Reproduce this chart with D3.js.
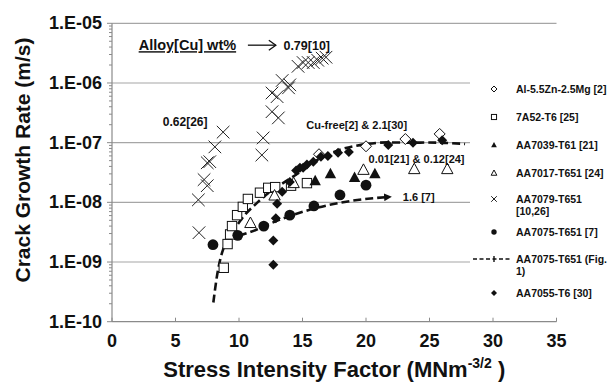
<!DOCTYPE html>
<html><head><meta charset="utf-8">
<script src="https://cdn.jsdelivr.net/npm/d3@7"></script>
<style>body{margin:0;background:#fff}svg{display:block;font-family:"Liberation Sans",Arial,sans-serif}</style>
</head><body><svg id="c" width="609" height="382"></svg>
<script>
// ---- data ----
const xTicks = [0,5,10,15,20,25,30,35];
const yTicks = [1e-10,1e-9,1e-8,1e-7,1e-6,1e-5];
const yTickLabels = ["1.E-10","1.E-09","1.E-08","1.E-07","1.E-06","1.E-05"];

const al55K = [16.3, 20.0, 23.1, 25.8];
const al55V = [6.4e-8, 8.7e-8, 1.15e-7, 1.4e-7];

const a7a52K = [8.8, 9.1, 9.3, 9.45, 9.85, 10.3, 10.7, 11.65, 12.3, 12.85, 14.1, 15.35];
const a7a52V = [8e-10, 2.0e-9, 2.9e-9, 4.0e-9, 6.1e-9, 8.4e-9, 1.14e-8, 1.45e-8, 1.75e-8, 1.8e-8, 1.9e-8, 2.1e-8];

const aa7039K = [16.0, 17.2, 19.1, 20.7];
const aa7039V = [2.3e-8, 3.0e-8, 2.6e-8, 3.0e-8];

const aa7017K = [10.9, 12.8, 14.3, 19.8, 23.8, 26.4];
const aa7017V = [4.5e-9, 1.3e-8, 2.1e-8, 3.5e-8, 3.6e-8, 3.6e-8];

const aa7079K = [6.85, 6.8, 7.25, 7.5, 7.5, 7.7, 8.1, 8.75, 11.8, 11.9, 12.6, 13.1, 12.6, 13.0, 13.4, 14.0, 13.9, 14.65, 15.05, 15.45, 15.85, 16.2, 16.55, 16.85];
const aa7079V = [3.1e-9, 1.1e-8, 2.4e-8, 1.9e-8, 4.6e-8, 4.8e-8, 8.5e-8, 1.5e-7, 6.2e-8, 1.2e-7, 3.3e-7, 2.6e-7, 6.8e-7, 5.9e-7, 1.1e-6, 9.3e-7, 8.3e-7, 1.9e-6, 2.2e-6, 2.2e-6, 2.2e-6, 2.4e-6, 2.6e-6, 2.7e-6];

const aa7075K = [7.95, 9.9, 11.95, 14.0, 15.9, 17.95, 20.0];
const aa7075V = [1.95e-9, 2.8e-9, 4.0e-9, 6.1e-9, 8.7e-9, 1.33e-8, 1.94e-8];

const fig1K = [7.98, 8.35, 8.74, 9.29, 9.69, 10.47, 11.42, 12.44, 13.46, 14.8, 16.14, 17.95, 19.53, 21.1, 23.46, 25.83, 27.8];
const fig1V = [2.1e-10, 7.4e-10, 1.6e-9, 2.9e-9, 3.7e-9, 6.2e-9, 9.8e-9, 1.5e-8, 2.1e-8, 3.2e-8, 5.1e-8, 7.6e-8, 9.1e-8, 1.0e-7, 1.0e-7, 1.0e-7, 9.5e-8];

const aa7055K = [12.7, 12.7, 12.9, 13.0, 13.4, 14.0, 14.5, 14.8, 15.05, 15.35, 15.85, 16.45, 17.0, 17.8, 18.65, 21.75, 23.7, 26.0];
const aa7055V = [9e-10, 2.3e-9, 5.4e-9, 9.5e-9, 1.5e-8, 2.2e-8, 3.4e-8, 3.8e-8, 3.8e-8, 4.3e-8, 4.8e-8, 5.8e-8, 6.0e-8, 6.8e-8, 7.0e-8, 9.1e-8, 1.0e-7, 1.1e-7];

const cu16K = [10.0, 11.4, 12.44, 14.02, 16.14, 18.74, 21.73];
const cu16V = [2.75e-9, 3.5e-9, 4.4e-9, 5.9e-9, 8.1e-9, 1.05e-8, 1.23e-8];

const legendNames = ["Al-5.5Zn-2.5Mg [2]","7A52-T6 [25]","AA7039-T61 [21]","AA7017-T651 [24]","AA7079-T651|[10,26]","AA7075-T651 [7]","AA7075-T651 (Fig.|1)","AA7055-T6 [30]"];
const legendKinds = ["hdiamond","hsquare","ftri","htri","cross","fcircle","dash","fdiamond"];

// ---- chart ----
const svg = d3.select("#c");
const x = d3.scaleLinear().domain([0,35]).range([112,556.5]);
const y = d3.scaleLog().domain([1e-10,1e-5]).range([321.7,23.3]);
const grid = "#a6a6a6", axc = "#8a8a8a";

// gridlines
svg.append("g").selectAll("line").data(yTicks.slice(1)).join("line")
  .attr("x1",x(0)).attr("x2",x(35)).attr("y1",d=>y(d)).attr("y2",d=>y(d))
  .attr("stroke",grid).attr("stroke-width",1.2);

// y axis with minor ticks
const minor = [];
for (let e=-10;e<-5;e++) for (let m=2;m<10;m++) minor.push(m*Math.pow(10,e));
const ax = svg.append("g");
ax.append("line").attr("x1",x(0)).attr("x2",x(0)).attr("y1",y(1e-5)).attr("y2",y(1e-10)).attr("stroke",axc).attr("stroke-width",1.2);
ax.selectAll(".mn").data(minor).join("line").attr("x1",x(0)-3).attr("x2",x(0)).attr("y1",d=>y(d)).attr("y2",d=>y(d)).attr("stroke",axc);
ax.selectAll(".mj").data(yTicks).join("line").attr("x1",x(0)-5).attr("x2",x(0)).attr("y1",d=>y(d)).attr("y2",d=>y(d)).attr("stroke",axc);
ax.selectAll("text").data(yTicks).join("text").attr("x",x(0)-10).attr("y",d=>y(d)+6)
  .attr("text-anchor","end").attr("font-size",18).attr("font-weight","bold").attr("fill","#111")
  .text((d,i)=>yTickLabels[i]);

// x axis
const bx = svg.append("g");
bx.append("line").attr("x1",x(0)).attr("x2",x(35)).attr("y1",y(1e-10)).attr("y2",y(1e-10)).attr("stroke",axc).attr("stroke-width",1.2);
bx.selectAll("line.t").data(xTicks).join("line").attr("class","t").attr("x1",d=>x(d)).attr("x2",d=>x(d)).attr("y1",y(1e-10)).attr("y2",y(1e-10)-4).attr("stroke",axc);
bx.selectAll("text").data(xTicks).join("text").attr("x",d=>x(d)).attr("y",y(1e-10)+25)
  .attr("text-anchor","middle").attr("font-size",18).attr("font-weight","bold").attr("fill","#111").text(d=>d);

// axis titles
svg.append("text").attr("transform","translate(30,160) rotate(-90)").attr("text-anchor","middle")
  .attr("font-size",21).attr("font-weight","bold").attr("fill","#111").text("Crack Growth Rate (m/s)");
const xt = svg.append("text").attr("x",x(17.5)).attr("y",377).attr("text-anchor","middle")
  .attr("font-size",22).attr("font-weight","bold").attr("fill","#111");
xt.append("tspan").text("Stress Intensity Factor (MNm");
xt.append("tspan").attr("font-size",14).attr("dy",-9).text("-3/2");
xt.append("tspan").attr("dy",9).text(" )");

// legend background (covers gridlines)
svg.append("rect").attr("x",470).attr("y",66).attr("width",139).attr("height",244).attr("fill","#fff");

// marker drawing
function drawMarker(g, kind, s){
  const r = s;
  if (kind==="hdiamond") g.append("path").attr("d",`M0,${-r}L${r},0L0,${r}L${-r},0Z`).attr("fill","#fff").attr("stroke","#111").attr("stroke-width",1);
  else if (kind==="fdiamond") g.append("path").attr("d",`M0,${-r}L${r},0L0,${r}L${-r},0Z`).attr("fill","#111");
  else if (kind==="hsquare") g.append("rect").attr("x",-r*0.85).attr("y",-r*0.85).attr("width",r*1.7).attr("height",r*1.7).attr("fill","#fff").attr("stroke","#111").attr("stroke-width",1);
  else if (kind==="ftri") g.append("path").attr("d",`M0,${-r}L${r*0.95},${r*0.75}L${-r*0.95},${r*0.75}Z`).attr("fill","#111");
  else if (kind==="htri") g.append("path").attr("d",`M0,${-r}L${r*0.95},${r*0.75}L${-r*0.95},${r*0.75}Z`).attr("fill","#fff").attr("stroke","#111").attr("stroke-width",1);
  else if (kind==="fcircle") g.append("circle").attr("r",r*0.9).attr("fill","#111");
  else if (kind==="cross") g.append("path").attr("d",`M${-r},${-r}L${r},${r}M${-r},${r}L${r},${-r}`).attr("stroke","#222").attr("stroke-width",1).attr("fill","none");
}
function series(K,V,kind,s){
  const g = svg.append("g");
  K.forEach((k,i)=>{ drawMarker(g.append("g").attr("transform",`translate(${x(k)},${y(V[i])})`),kind,s); });
}

// dashed lines
const line = d3.line().x(d=>x(d[0])).y(d=>y(d[1])).curve(d3.curveMonotoneX);
svg.append("path").datum(fig1K.map((k,i)=>[k,fig1V[i]])).attr("d",d3.line().x(d=>x(d[0])).y(d=>y(d[1])).curve(d3.curveCatmullRom))
  .attr("fill","none").attr("stroke","#111").attr("stroke-width",2.6).attr("stroke-dasharray","8,4");

// data series
series(aa7079K,aa7079V,"cross",6.3);
series(a7a52K,a7a52V,"hsquare",5.5);
series(aa7017K,aa7017V,"htri",6);
series(aa7039K,aa7039V,"ftri",6);
series(aa7075K,aa7075V,"fcircle",6);
series(al55K,al55V,"hdiamond",5.5);
series(aa7055K,aa7055V,"fdiamond",5);

// 1.6[7] arrow
svg.append("defs").append("marker").attr("id","ah").attr("viewBox","0 0 10 10").attr("refX",5).attr("refY",5)
  .attr("markerWidth",3).attr("markerHeight",3).attr("orient","auto")
  .append("path").attr("d","M0,0L10,5L0,10Z").attr("fill","#111");
svg.append("path").datum(cu16K.map((k,i)=>[k,cu16V[i]])).attr("d",line)
  .attr("fill","none").attr("stroke","#111").attr("stroke-width",2.6).attr("stroke-dasharray","8,4").attr("marker-end","url(#ah)");

// annotations
const ann = svg.append("g").attr("font-weight","bold").attr("fill","#111");
const aY = 4.3e-6;
ann.append("text").attr("x",x(2.1)).attr("y",y(aY)+5).attr("font-size",14.5).attr("text-decoration","underline").text("Alloy[Cu] wt%");
svg.append("line").attr("x1",x(10.7)).attr("x2",x(12.9)).attr("y1",y(aY)).attr("y2",y(aY)).attr("stroke","#111").attr("stroke-width",1.3);
svg.append("path").attr("d",`M${x(12.9)-7},${y(aY)-5}L${x(12.9)},${y(aY)}L${x(12.9)-7},${y(aY)+5}`).attr("fill","none").attr("stroke","#111").attr("stroke-width",1.3);
ann.append("text").attr("x",x(13.5)).attr("y",y(aY)+5).attr("font-size",12.5).text("0.79[10]");
ann.append("text").attr("x",x(4.0)).attr("y",y(2.2e-7)+4).attr("font-size",12).text("0.62[26]");
ann.append("text").attr("x",x(15.3)).attr("y",y(2.0e-7)+4).attr("font-size",11).text("Cu-free[2] & 2.1[30]");
ann.append("text").attr("x",x(20.2)).attr("y",y(5.3e-8)+4).attr("font-size",11).text("0.01[21] & 0.12[24]");
ann.append("text").attr("x",x(22.9)).attr("y",y(1.25e-8)+4).attr("font-size",11).text("1.6 [7]");

// legend
const legY = [89,117,145,173,199,232,259,293];
const lg = svg.append("g");
legendNames.forEach((name,i)=>{
  const g = lg.append("g").attr("transform",`translate(0,${legY[i]})`);
  if (legendKinds[i]==="dash"){
    g.append("line").attr("x1",473).attr("x2",512).attr("y1",0).attr("y2",0).attr("stroke","#111").attr("stroke-width",1.6).attr("stroke-dasharray","4,2.5");
    g.append("path").attr("d","M494,-3L494,3").attr("stroke","#111").attr("stroke-width",1.4);
  } else {
    drawMarker(g.append("g").attr("transform","translate(494,0)"), legendKinds[i], legendKinds[i]==="cross"?2.8:3);
  }
  const parts = name.split("|");
  parts.forEach((p,j)=>{
    g.append("text").attr("x",516).attr("y",4+j*11.5).attr("font-size",10.5).attr("font-weight","bold").attr("fill","#111").text(p);
  });
});
</script></body></html>
